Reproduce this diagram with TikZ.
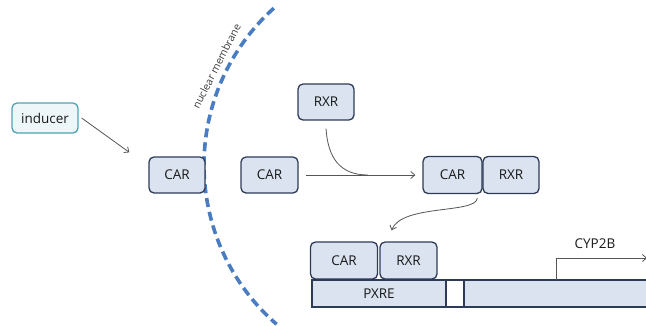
\documentclass[tikz,border=0pt]{standalone}
\usepackage{fontspec}
\setmainfont{Open Sans}
\usetikzlibrary{arrows.meta}
\definecolor{boxfill}{HTML}{DAE3EF}
\definecolor{boxline}{HTML}{2E3B58}
\definecolor{indline}{HTML}{4FA3B3}
\definecolor{indfill}{HTML}{EDF6F8}
\definecolor{memblue}{HTML}{4A7CC2}
\definecolor{conncol}{HTML}{555555}
\begin{document}
\begin{tikzpicture}[x=1pt,y=-1pt,
  prot/.style={draw=boxline, fill=boxfill, line width=1.3pt, rounded corners=5pt,
    font=\fontsize{13.5}{16}\selectfont, inner sep=0pt, text=black!90},
  indbox/.style={draw=indline, fill=indfill, line width=1.3pt, rounded corners=5pt,
    font=\fontsize{13.5}{16}\selectfont, inner sep=0pt, text=black!90},
  dnabox/.style={draw=boxline, fill=boxfill, line width=1.1pt, inner sep=0pt,
    font=\fontsize{13.5}{16}\selectfont, text=black!90},
  conn/.style={draw=conncol, line width=0.8pt},
  arr/.style={conn, -{Straight Barb[length=4pt,width=7pt]}},
]
\useasboundingbox (0,0) rectangle (646,325);

% nuclear membrane
\draw[memblue, line width=3.6pt, dash pattern=on 9pt off 5pt]
  (415,165) ++(228:211) arc[start angle=228, end angle=131, radius=211];
\node[anchor=base, rotate=63, inner sep=0pt, text=black!75,
      font=\fontsize{10.5}{12}\selectfont] (memlabel) at (220,68) {nuclear membrane};

% proteins
\node[indbox, minimum width=66pt, minimum height=30pt] (inducer) at (45,118) {inducer};
\node[prot, minimum width=56pt, minimum height=36pt] (car1) at (177,175) {CAR};
\node[prot, minimum width=57pt, minimum height=36pt] (car2) at (269.5,175) {CAR};
\node[prot, minimum width=56pt, minimum height=36pt] (rxr1) at (326,102) {RXR};
\node[prot, minimum width=59pt, minimum height=37pt] (car3) at (452.5,175) {CAR};
\node[prot, minimum width=56pt, minimum height=37pt] (rxr3) at (511,175) {RXR};
\node[prot, minimum width=67pt, minimum height=37pt] (car4) at (344,260.5) {CAR};
\node[prot, minimum width=57pt, minimum height=37pt] (rxr4) at (408.5,260.5) {RXR};

% DNA
\node[dnabox, minimum width=134pt, minimum height=27pt] (pxre) at (379,293.5) {PXRE};
\node[draw=boxline, fill=white, line width=1.1pt, inner sep=0pt,
      minimum width=18pt, minimum height=27pt] (spacer) at (455,293.5) {};
\node[dnabox, minimum width=200pt, minimum height=27pt] (gene) at (564,293.5) {};

% promoter
\coordinate (tss) at (556,280);
\coordinate (tssend) at (647,258);
\draw[arr] (tss) |- (tssend);
\node[font=\fontsize{13.5}{16}\selectfont, text=black!90] (cyp) at (595,244) {CYP2B};

% connectors
\draw[arr] ([xshift=3pt]inducer.east) -- ([xshift=-19pt,yshift=4pt]car1.north west);
\coordinate (join) at (368,175);
\draw[arr] ([xshift=7pt]car2.east) -- ([xshift=-7pt]car3.west);
\draw[conn] ([yshift=-8pt]rxr1.south) .. controls (328,158) and (340,175) .. (join);
\draw[arr] ([xshift=-5pt,yshift=-4pt]rxr3.south west) .. controls (476,214) and (402,204) .. ([xshift=-17pt,yshift=11pt]rxr4.north);
\end{tikzpicture}
\end{document}
